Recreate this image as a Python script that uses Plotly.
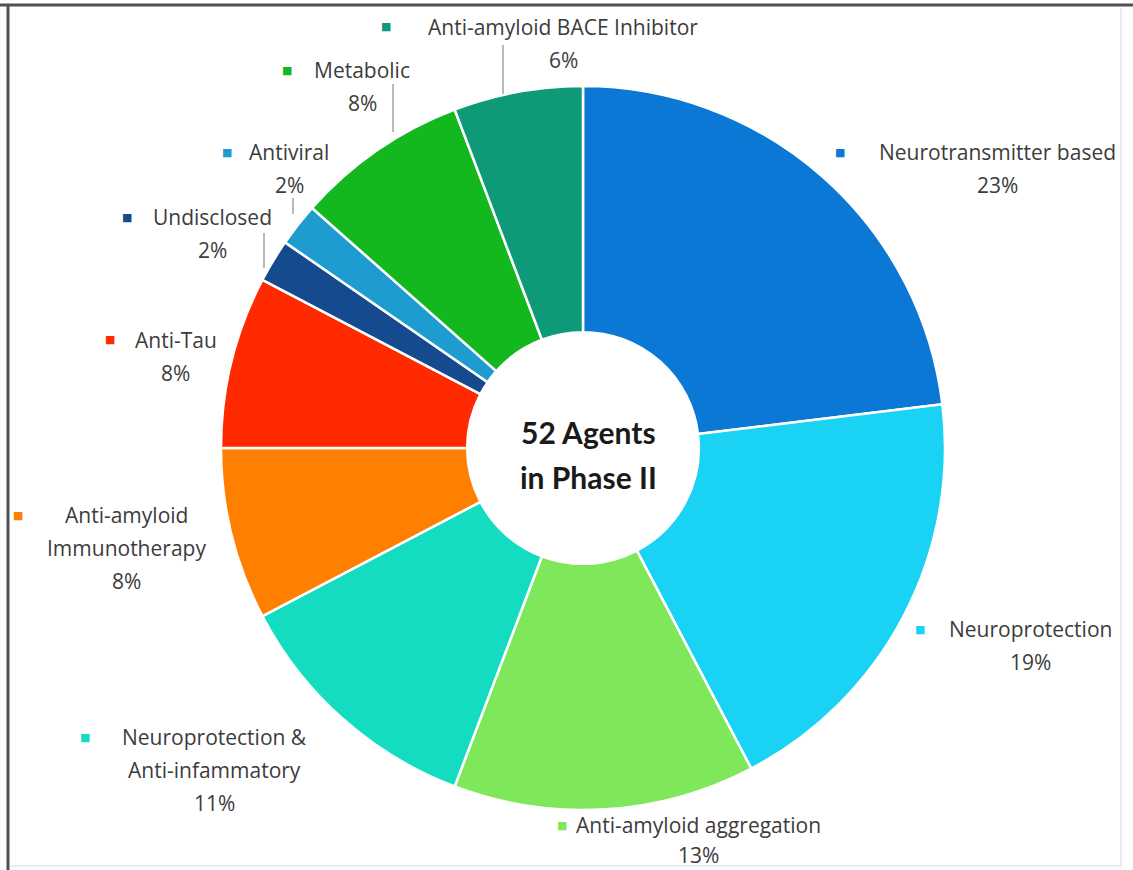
import plotly.graph_objects as go

# ---- data ----
categories = [
    "Neurotransmitter based", "Neuroprotection", "Anti-amyloid aggregation",
    "Neuroprotection & Anti-infammatory", "Anti-amyloid Immunotherapy", "Anti-Tau",
    "Undisclosed", "Antiviral", "Metabolic", "Anti-amyloid BACE Inhibitor",
]
agents = [12, 10, 7, 6, 4, 4, 1, 1, 4, 3]
percent_labels = ["23%", "19%", "13%", "11%", "8%", "8%", "2%", "2%", "8%", "6%"]
label_lines = [
    ["Neurotransmitter based"], ["Neuroprotection"], ["Anti-amyloid aggregation"],
    ["Neuroprotection &", "Anti-infammatory"], ["Anti-amyloid", "Immunotherapy"], ["Anti-Tau"],
    ["Undisclosed"], ["Antiviral"], ["Metabolic"], ["Anti-amyloid BACE Inhibitor"],
]
center_text = ["52 Agents", "in Phase II"]

# ---- style ----
colors = ["#0a78d4", "#1ad2f4", "#7ee85a", "#14dcc0", "#ff7f00", "#ff2a00",
          "#154a8e", "#1e9cd0", "#12b81e", "#0e9a78"]
W, H = 1133, 870
# label layout (pixel positions): marker (x,y), text center x, first line y, line step
label_pos = [
    ((840, 152), 997, 152, 33), ((920, 629), 1030, 629, 33), ((562, 825), 698, 825, 30),
    ((85, 737), 214, 737, 33), ((18, 515), 126, 515, 33), ((110, 340), 176, 340, 33),
    ((127, 217), 212, 217, 33), ((227, 152), 289, 152, 33), ((287, 70), 362, 70, 33),
    ((386, 27), 563, 27, 33),
]
leaders = [(503, 45, 503, 94), (393, 84, 393, 132), (293, 198, 293, 214), (264, 233, 264, 268)]

def px(x):
    return x / W

def py(y):
    return 1 - y / H

cx, cy, R = 583, 448, 362

fig = go.Figure(go.Pie(
    labels=categories, values=agents, sort=False, direction="clockwise", rotation=0,
    hole=0.32, textinfo="none", marker=dict(colors=colors, line=dict(color="white", width=2.5)),
    domain=dict(x=[px(cx - R), px(cx + R)], y=[py(cy + R), py(cy - R)]),
    showlegend=False,
))

font_family = "Open Sans"
ann = []
for i, (mk, tx, ty, step) in enumerate(label_pos):
    ann.append(dict(x=px(mk[0]), y=py(mk[1]), text="■", showarrow=False,
                    font=dict(size=11, color=colors[i], family="DejaVu Sans"),
                    xanchor="center", yanchor="middle"))
    lines = label_lines[i] + [percent_labels[i]]
    for j, t in enumerate(lines):
        ann.append(dict(x=px(tx), y=py(ty + j * step), text=t, showarrow=False,
                        font=dict(size=21, color="#3c3c3c", family=font_family),
                        xanchor="center", yanchor="middle"))

ann.append(dict(x=px(588), y=py(432), text="<b>%s</b>" % center_text[0], showarrow=False,
                font=dict(size=30, color="#1a1a1a", family="Lato"), xanchor="center", yanchor="middle"))
ann.append(dict(x=px(588), y=py(477), text="<b>%s</b>" % center_text[1], showarrow=False,
                font=dict(size=30, color="#1a1a1a", family="Lato"), xanchor="center", yanchor="middle"))

shapes = []
for (x0, y0, x1, y1) in leaders:
    shapes.append(dict(type="line", xref="paper", yref="paper", x0=px(x0), y0=py(y0), x1=px(x1), y1=py(y1),
                       line=dict(color="#8c8c8c", width=1.2)))
# frame
shapes.append(dict(type="line", xref="paper", yref="paper", x0=0, y0=py(5), x1=1, y1=py(5),
                   line=dict(color="#505050", width=3)))
shapes.append(dict(type="line", xref="paper", yref="paper", x0=px(8), y0=py(4), x1=px(8), y1=0,
                   line=dict(color="#505050", width=3)))
shapes.append(dict(type="line", xref="paper", yref="paper", x0=px(1121), y0=py(8), x1=px(1121), y1=py(866),
                   line=dict(color="#e4e4e4", width=1.5)))
shapes.append(dict(type="line", xref="paper", yref="paper", x0=px(10), y0=py(866), x1=px(1121), y1=py(866),
                   line=dict(color="#e4e4e4", width=1.5)))

fig.update_layout(width=W, height=H, margin=dict(l=0, r=0, t=0, b=0),
                  paper_bgcolor="white", plot_bgcolor="white",
                  annotations=ann, shapes=shapes)
fig.write_html("out.html", config={"displayModeBar": False},
               post_script="document.body.style.margin='0';document.body.style.padding='0';document.body.style.overflow='hidden';")
